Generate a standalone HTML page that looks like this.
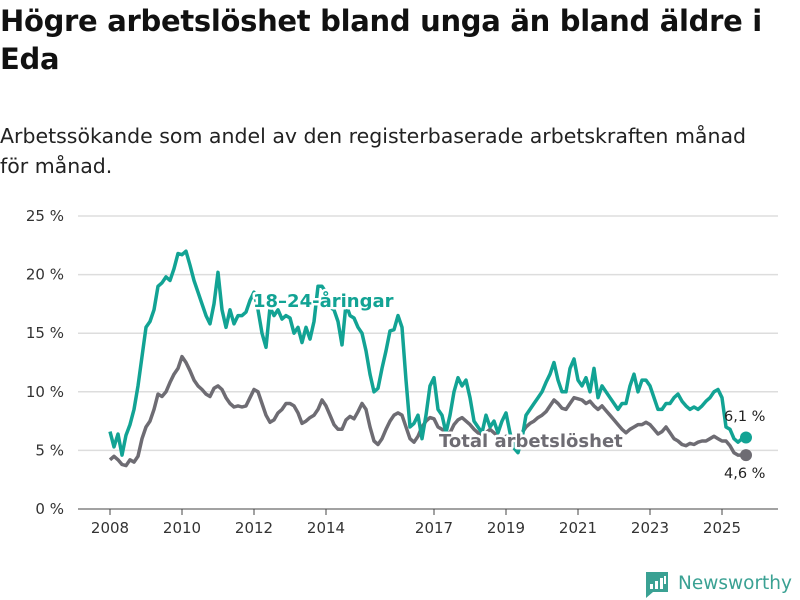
<!DOCTYPE html>
<html><head><meta charset="utf-8"><style>
body{margin:0;width:800px;height:600px;background:#fff;overflow:hidden;font-family:"DejaVu Sans","Liberation Sans",sans-serif;color:#111}
h1{position:absolute;left:0;top:2px;margin:0;font-size:29px;line-height:38px;font-weight:bold;width:790px;letter-spacing:-0.3px}
.sub{position:absolute;left:0;top:121px;font-size:20.5px;line-height:30px;color:#222;width:770px}
svg{position:absolute;left:0;top:0}
</style></head><body>
<h1>Högre arbetslöshet bland unga än bland äldre i Eda</h1>
<div class="sub">Arbetssökande som andel av den registerbaserade arbetskraften månad för månad.</div>
<svg id="chart" width="800" height="600"></svg>
<script>
const yTicks=[0,5,10,15,20,25];
const yTickLabels=["0 %","5 %","10 %","15 %","20 %","25 %"];
const xTickYears=[2008,2010,2012,2014,2017,2019,2021,2023,2025];
const youth=[6.6,5.3,6.4,4.6,6.3,7.2,8.5,10.5,13,15.5,16,17,19,19.3,19.8,19.5,20.5,21.8,21.7,22,20.8,19.5,18.5,17.5,16.5,15.8,17.5,20.2,17,15.5,17,15.8,16.5,16.5,16.8,17.8,18.5,17,15,13.8,17.2,16.5,17,16.2,16.5,16.3,15,15.5,14.2,15.5,14.5,16,19,19,18.5,17.2,17,16,14,17.5,16.5,16.3,15.5,15,13.5,11.5,10,10.3,12,13.5,15.2,15.3,16.5,15.5,11,7,7.3,8,6,8,10.5,11.2,8.5,8,6.5,8,10,11.2,10.5,11,9.5,7.5,7,6.5,8,7,7.5,6.5,7.5,8.2,6.5,5.2,4.8,6,8,8.5,9,9.5,10,10.8,11.5,12.5,11,10,10,12,12.8,11,10.5,11.2,10,12,9.5,10.5,10,9.5,9,8.5,9,9,10.5,11.5,10,11,11,10.5,9.5,8.5,8.5,9,9,9.5,9.8,9.2,8.8,8.5,8.7,8.5,8.8,9.2,9.5,10,10.2,9.5,7,6.8,6,5.7,6,6.1];
const total=[4.2,4.5,4.2,3.8,3.7,4.2,4,4.5,6,7,7.5,8.5,9.8,9.6,10,10.8,11.5,12,13,12.5,11.8,11,10.5,10.2,9.8,9.6,10.3,10.5,10.2,9.5,9,8.7,8.8,8.7,8.8,9.5,10.2,10,9,8,7.4,7.6,8.2,8.5,9,9,8.8,8.2,7.3,7.5,7.8,8,8.5,9.3,8.8,8,7.2,6.8,6.8,7.6,7.9,7.7,8.3,9,8.5,7,5.8,5.5,6,6.8,7.5,8,8.2,8,7,6,5.7,6.2,7,7.5,7.8,7.7,7,6.8,6.5,6.5,7.2,7.6,7.8,7.5,7.2,6.8,6.5,6.2,6.5,6.8,6.5,6.2,6,6.2,6,5.8,5.8,6.5,7,7.3,7.5,7.8,8,8.3,8.8,9.3,9,8.6,8.5,9,9.5,9.4,9.3,9,9.2,8.8,8.5,8.8,8.4,8,7.6,7.2,6.8,6.5,6.8,7,7.2,7.2,7.4,7.2,6.8,6.4,6.6,7,6.5,6,5.8,5.5,5.4,5.6,5.5,5.7,5.8,5.8,6,6.2,6,5.8,5.8,5.4,4.8,4.6,4.6,4.6];
const lastLabels=["6,1 %","4,6 %"];
const NS="http://www.w3.org/2000/svg",svg=document.getElementById('chart');
const X0=78,X1=778,Y0=509,Y25=216;
const y=v=>Y0-(v/25)*(Y0-Y25);
const xYear=yr=>110+(yr-2008)*36;
const xIdx=i=>xYear(2008+i*(4/36));
function mk(t,a,p){const e=document.createElementNS(NS,t);for(const k in a)e.setAttribute(k,a[k]);(p||svg).appendChild(e);return e;}
yTicks.forEach((v,i)=>{
 const l=mk('line',{x1:X0,x2:X1,y1:y(v),y2:y(v),stroke:v===0?'#444':'#ddd','stroke-width':v===0?1:1.5});
 
 
 const t=mk('text',{x:64,y:y(v)+5,'text-anchor':'end','font-size':15,fill:'#333'});t.textContent=yTickLabels[i];
 
 
});
xTickYears.forEach(yr=>{
 const l=mk('line',{x1:xYear(yr),x2:xYear(yr),y1:Y0,y2:Y0+6,stroke:'#444'});
 
 
 const t=mk('text',{x:xYear(yr),y:533,'text-anchor':'middle','font-size':15,fill:'#333'});t.textContent=yr;
 
 
});
function line(arr,col,name){
 const d=arr.map((v,i)=>(i?'L':'M')+xIdx(i).toFixed(1)+','+y(v).toFixed(1)).join('');
 const p=mk('path',{d:d,fill:'none',stroke:col,'stroke-width':3.5,'stroke-linejoin':'round'});
 
 
 const n=arr.length-1;
 const c=mk('circle',{cx:xIdx(n),cy:y(arr[n]),r:6,fill:col});
 
 
}
line(total,'#6e6c73','total-line');
line(youth,'#12a394','youth-line');
function lab(txt,x,yy,col,name,size,bold){
 const t=mk('text',{x:x,y:yy,'font-size':size,'font-weight':bold?'bold':'normal',fill:col,stroke:bold?'#fff':'none','stroke-width':5,'paint-order':'stroke','stroke-linejoin':'round'});t.textContent=txt;
 
 
}
lab('18–24-åringar',253,307,'#12a394','youth-series-label',18,true);
lab('Total arbetslöshet',439,447,'#6e6c73','total-series-label',18,true);
lab(lastLabels[0],724,421,'#222','youth-last-value',14.5,false);
lab(lastLabels[1],724,478,'#222','total-last-value',14.5,false);
const g=mk('g',{});


mk('path',{d:'M646 572h22v20h-15l-7 6z',fill:'#3aa193'},g);
mk('rect',{x:650,y:584,width:3,height:5,fill:'#fff'},g);
mk('rect',{x:655,y:581,width:3,height:8,fill:'#fff'},g);
mk('rect',{x:660,y:578,width:3,height:11,fill:'#fff'},g);
mk('rect',{x:664,y:576,width:2,height:8,fill:'#fff'},g);
const lt=mk('text',{x:678,y:589,'font-size':18.5,fill:'#3aa193'},g);lt.textContent='Newsworthy';
</script>
</body></html>
